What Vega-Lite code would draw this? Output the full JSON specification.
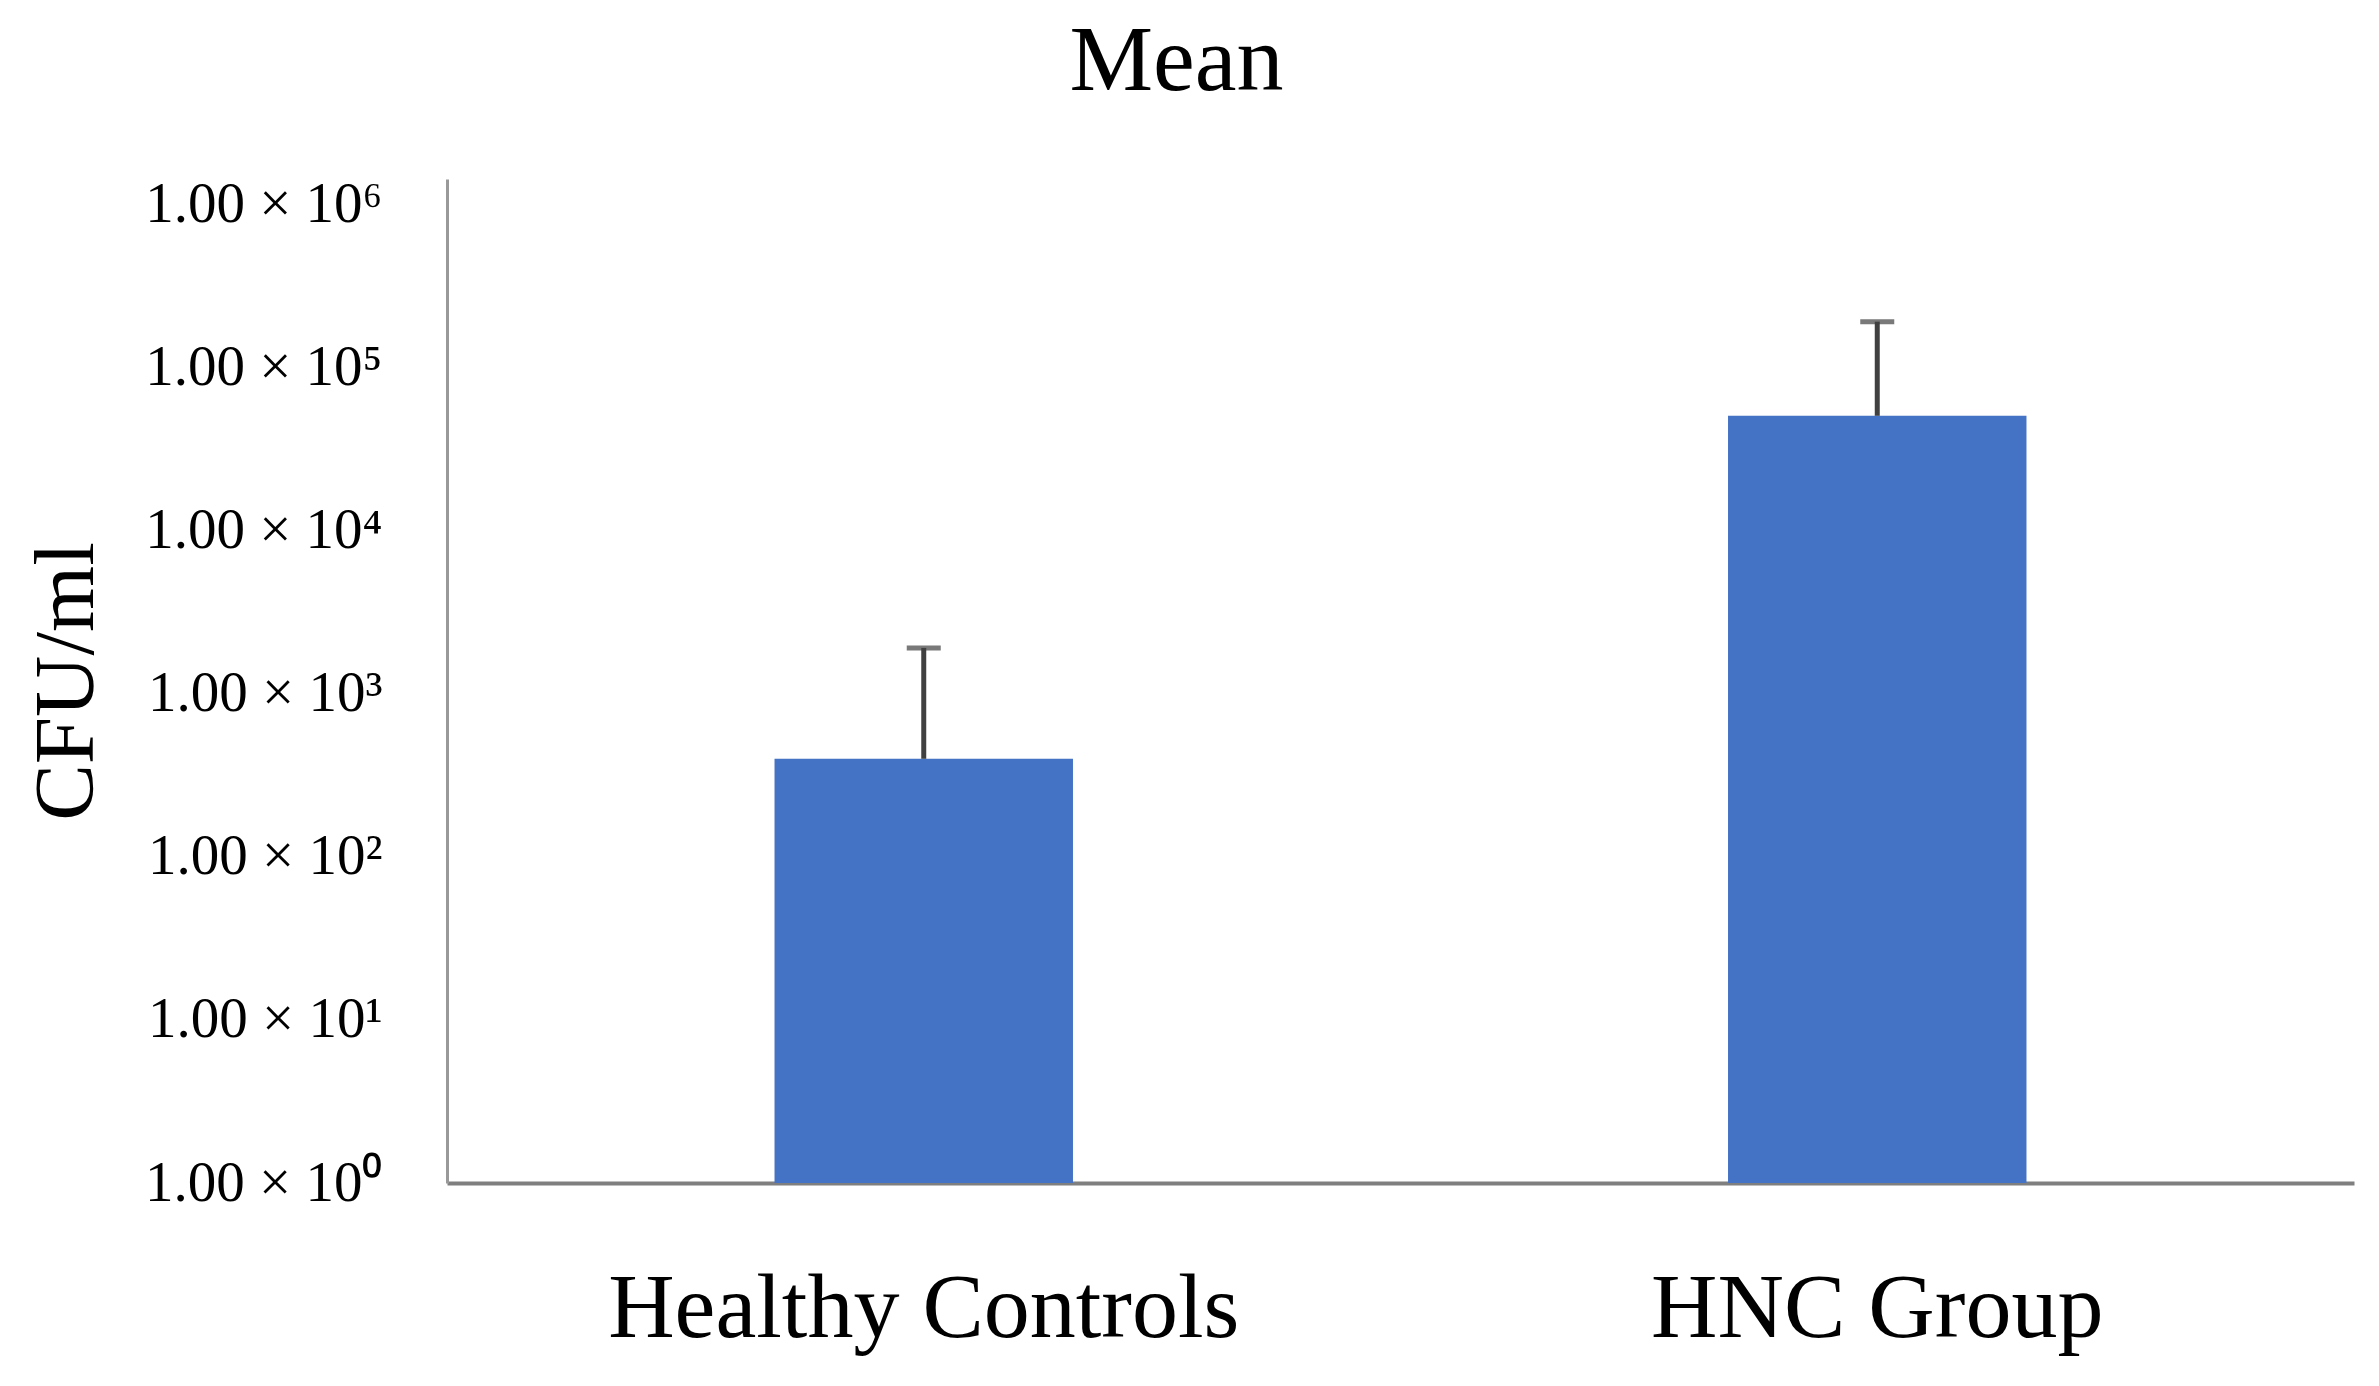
{
  "$schema": "https://vega.github.io/schema/vega-lite/v6.json",
  "width": 1907,
  "height": 1004,
  "autosize": {"type": "none"},
  "padding": {"left": 447, "top": 179, "right": 25, "bottom": 203},
  "background": "white",
  "title": {"text": "Mean", "font": "Liberation Serif", "fontSize": 94, "fontWeight": "normal", "color": "#000000", "anchor": "middle", "frame": "group", "offset": 66, "dx": -224},
  "data": {"values": [
    {"group": "Healthy Controls", "mean": 400, "upper": 1915},
    {"group": "HNC Group", "mean": 50800, "upper": 192000}
  ]},
  "encoding": {
    "x": {"field": "group", "type": "nominal", "sort": null,
      "scale": {"paddingInner": 0, "paddingOuter": 0},
      "axis": {"title": null, "labelAngle": 0, "labelLimit": 0, "labelFont": "Liberation Serif", "labelFontSize": 92, "labelColor": "#000000", "labelPadding": 80, "ticks": false, "grid": false, "domainColor": "#7f7f7f", "domainWidth": 4}}
  },
  "layer": [
    {
      "mark": {"type": "bar", "color": "#4472C4", "width": {"band": 0.313}},
      "encoding": {
        "y": {"field": "mean", "type": "quantitative",
          "scale": {"type": "log", "domain": [1, 1440000], "nice": false},
          "axis": {"title": "CFU/ml", "values": [1, 10, 100, 1000, 10000, 100000, 1000000],
            "labelExpr": "'1.00 × 10' + ['⁰','¹','²','³','⁴','⁵','⁶'][round(log(datum.value)/LN10)]",
            "labelLimit": 0,
            "labelFont": "Liberation Serif", "labelFontSize": 57, "labelColor": "#000000", "labelPadding": 65,
            "ticks": false, "grid": false, "domainColor": "#999999", "domainWidth": 3,
            "titleFont": "Liberation Serif", "titleFontSize": 85, "titleFontWeight": "normal", "titleColor": "#000000", "titlePadding": 137}},
        "y2": {"datum": 1}
      }
    },
    {
      "mark": {"type": "rule", "color": "#404040", "strokeWidth": 5},
      "encoding": {
        "y": {"field": "mean", "type": "quantitative"},
        "y2": {"field": "upper"}
      }
    },
    {
      "mark": {"type": "tick", "color": "#404040", "thickness": 5, "size": 34},
      "encoding": {
        "y": {"field": "upper", "type": "quantitative"}
      }
    }
  ],
  "config": {"view": {"stroke": null}}
}
